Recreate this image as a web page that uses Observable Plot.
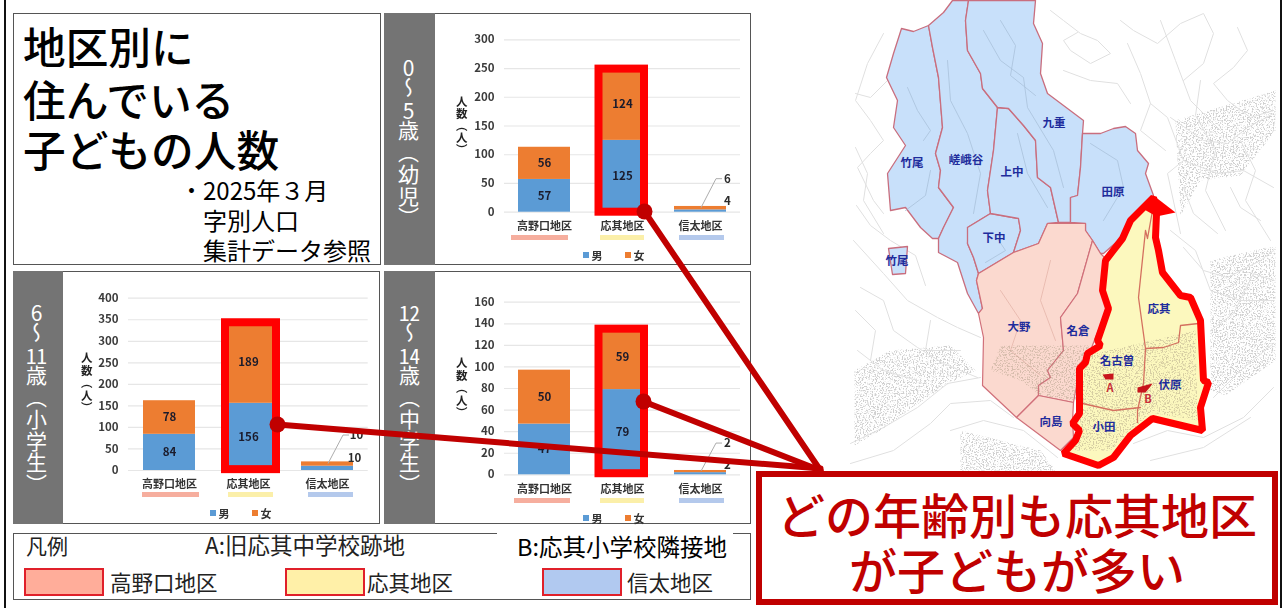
<!DOCTYPE html>
<html lang="ja">
<head>
<meta charset="utf-8">
<script src="https://cdn.jsdelivr.net/npm/d3@7"></script>
<script src="https://cdn.jsdelivr.net/npm/@observablehq/plot@0.6"></script>
<style>
html,body{margin:0;padding:0;background:#fff;}
#page{position:relative;width:1283px;height:608px;overflow:hidden;background:#fff;font-family:"Noto Sans CJK JP","Noto Sans",sans-serif;color:#111;}
#page>*{position:absolute;}
.panel{box-sizing:border-box;border:1.5px solid #555;background:#fff;}
.band{background:#747474;}
.t{position:absolute;white-space:nowrap;line-height:1;}
.g{position:absolute;white-space:nowrap;line-height:1;transform:translate(-50%,-50%);}
.v{position:absolute;white-space:nowrap;line-height:1;writing-mode:vertical-rl;text-orientation:upright;transform:translateX(-50%);}
.v span{text-combine-upright:all;}
svg.plot{position:absolute;overflow:visible;background:transparent;}
.soft{filter:blur(.45px);}
.speckle{filter:url(#sp);}
</style>
</head>
<body>
<div id="page"></div>
<svg width="0" height="0" style="position:absolute"><defs>
<filter id="sp" x="0" y="0" width="100%" height="100%">
<feTurbulence type="fractalNoise" baseFrequency="0.7" numOctaves="2" seed="4" result="n"/>
<feColorMatrix in="n" type="matrix" values="0 0 0 0 0  0 0 0 0 0  0 0 0 0 0  0 0 0 7 -3.5" result="a"/>
<feComposite in="SourceGraphic" in2="a" operator="in" result="c"/>
<feGaussianBlur in="c" stdDeviation="0.6"/>
</filter>
</defs></svg>
<script>
// ---------- chart data ----------
const districts = ["高野口地区", "応其地区", "信太地区"];
const genders = ["男", "女"];
const age0to5 = {男: [57, 125, 4], 女: [56, 124, 6]};
const age6to11 = {男: [84, 156, 10], 女: [78, 189, 10]};
const age12to14 = {男: [47, 79, 2], 女: [50, 59, 2]};
const ticks0to5 = [0, 50, 100, 150, 200, 250, 300];
const ticks6to11 = [0, 50, 100, 150, 200, 250, 300, 350, 400];
const ticks12to14 = [0, 20, 40, 60, 80, 100, 120, 140, 160];
const titleLines = ["地区別に", "住んでいる", "子どもの人数"];
const noteLines = ["2025年３月", "字別人口", "集計データ参照"];
const calloutLines = ["どの年齢別も応其地区", "が子どもが多い"];
const axisTitle = "人数（人）";

// ---------- map outlines (traced, in picture units) ----------
const blueAreas = [
 [[901,28],[913,31],[928,25],[932,47],[938,77],[942,127],[935,153],[940,170],[938,187],[953,207],[943,227],[938,238],[932,238],[920,227],[905,207],[890,210],[887,173],[905,145],[893,127],[897,100],[886,77],[893,53]],
 [[928,25],[943,12],[952,0],[968,0],[965,20],[967,50],[980,73],[982,88],[997,107],[993,150],[987,190],[990,213],[967,227],[968,230],[967,243],[973,257],[978,273],[976,280],[982,308],[978,313],[967,293],[957,262],[938,252],[938,238],[943,227],[953,207],[938,187],[940,170],[935,153],[942,127],[938,77],[932,47]],
 [[967,227],[990,213],[1018,218],[1020,230],[1013,252],[978,273],[973,257],[967,243]],
 [[997,107],[1008,108],[1023,125],[1035,140],[1037,177],[1050,187],[1058,222],[1047,223],[1038,243],[1013,252],[1020,230],[1018,218],[990,213],[987,190],[993,150]],
 [[968,0],[1035,0],[1033,23],[1042,43],[1040,73],[1047,93],[1067,108],[1083,120],[1082,133],[1080,167],[1077,195],[1070,197],[1070,222],[1058,222],[1050,187],[1037,177],[1035,140],[1023,125],[1008,108],[997,107],[982,88],[980,73],[967,50],[965,20]],
 [[1082,133],[1100,133],[1113,128],[1125,126],[1135,133],[1137,150],[1148,163],[1145,173],[1153,195],[1133,217],[1120,238],[1103,253],[1100,253],[1092,240],[1085,230],[1085,223],[1070,222],[1070,197],[1077,195],[1080,167]],
 [[888,248],[907,246],[905,273],[892,274]]
];
const pinkAreas = [
 [[1047,223],[1085,223],[1085,230],[1092,240],[1077,293],[1060,317],[1063,350],[1047,370],[1050,377],[1038,385],[1038,395],[1016,417],[982,385],[983,337],[978,313],[982,308],[976,280],[978,273],[1013,252],[1038,243]],
 [[1092,240],[1100,253],[1107,260],[1100,290],[1107,307],[1095,337],[1090,350],[1080,363],[1073,402],[1038,395],[1038,385],[1050,377],[1047,370],[1063,350],[1060,317],[1077,293]],
 [[1038,395],[1016,417],[1060,450],[1073,437],[1072,420],[1073,402]]
];
const yellowArea = [[1153,197],[1130,220],[1122,238],[1105,260],[1102,290],[1108,308],[1097,340],[1100,345],[1087,353],[1085,362],[1079,368],[1079,413],[1072,423],[1079,430],[1075,440],[1063,453],[1098,465],[1113,457],[1130,435],[1152,418],[1202,430],[1200,407],[1208,382],[1203,380],[1200,320],[1190,297],[1180,295],[1162,272],[1158,250],[1155,237],[1156,213]];
const yellowTip = [[1153,195],[1175,212],[1156,216],[1142,208]];
const innerBorders = [
 [[1152,210],[1147,238],[1145,230],[1138,297],[1145,348],[1143,383],[1137,410],[1137,422]],
 [[1145,348],[1163,347],[1178,342],[1180,325],[1198,323]],
 [[1082,403],[1113,410],[1140,407]]
];
const siteA = [[1102,374],[1113,373],[1113,379],[1105,379]];
const siteB = [[1137,387],[1148,384],[1152,383],[1150,386],[1145,392],[1137,392]];
const greyLines = [
 [[1050,10],[1063,20],[1080,33],[1097,40],[1110,53],[1090,63],[1070,50],[1063,40],[1077,32]],
 [[1120,20],[1133,30],[1157,43],[1180,23],[1203,13],[1213,33],[1203,63],[1183,80]],
 [[1127,43],[1140,73],[1150,103],[1167,117],[1183,160],[1167,173],[1180,233]],
 [[1237,27],[1247,50],[1233,67],[1213,83],[1227,100],[1250,117],[1273,110]],
 [[1063,70],[1090,80],[1117,83],[1130,103]],
 [[1170,117],[1203,140],[1227,143],[1247,127],[1273,113]],
 [[1183,160],[1217,173],[1243,170],[1273,187]],
 [[1183,187],[1193,213],[1217,233]],
 [[1230,187],[1240,207],[1260,220]],
 [[1160,20],[1175,60],[1190,100],[1220,130]],
 [[1200,80],[1195,115],[1215,150],[1205,190],[1225,230]],
 [[1150,103],[1140,130],[1165,150]],
 [[1240,140],[1255,170],[1245,200],[1270,240]],
 [[1170,230],[1195,250],[1210,290],[1240,300],[1273,300]],
 [[883,33],[867,63],[855,100],[870,120],[883,140],[870,153],[857,167],[873,200],[883,213]],
 [[855,93],[870,97],[887,80]],
 [[855,147],[867,173],[863,200],[883,233]],
 [[856,205],[870,225],[890,240],[915,255],[925,285]],
 [[853,240],[883,273],[907,300],[937,317],[957,327],[980,337]],
 [[860,287],[883,300],[893,330],[917,347],[943,363],[977,377]],
 [[857,350],[883,370],[917,380]],
 [[855,310],[875,330],[870,360]],
 [[930,320],[925,350],[960,350]],
 [[850,443],[883,427],[917,407],[947,383],[980,377]],
 [[850,463],[893,450],[930,423],[950,403],[990,400],[1013,417]],
 [[950,430],[983,420],[1023,430],[1057,457]],
 [[1133,443],[1167,430],[1203,437],[1243,417],[1273,387]],
 [[1213,397],[1240,370],[1273,343]],
 [[1210,330],[1233,313],[1253,273],[1273,280]],
 [[1183,247],[1203,270],[1227,277],[1260,260],[1273,250]],
 [[1150,460],[1203,447],[1250,417]]
];
const areaLines = [
 [[947,60],[950,100],[967,133],[980,173],[973,213]],
 [[983,30],[1000,60],[1023,77],[1027,107],[1053,150],[1063,187]],
 [[907,87],[917,110],[930,130],[923,140]],
 [[1017,133],[1027,173],[1047,207]],
 [[1090,143],[1117,160],[1123,187],[1103,220]],
 [[905,210],[925,195],[930,170]],
 [[1000,20],[1015,45],[1010,75],[1035,95]],
 [[995,235],[1005,250],[985,262]],
 [[1000,290],[1020,320],[1010,350],[1040,375]],
 [[1050,260],[1040,300],[1055,340]]
];
const urbanGrey = [
 [[854,370],[890,350],[950,345],[975,370],[945,385],[915,405],[880,430],[854,445]],
 [[1210,260],[1275,245],[1275,360],[1225,395],[1210,390]],
 [[1175,120],[1275,90],[1275,130],[1240,175],[1200,180],[1180,215]],
 [[960,430],[1040,450],[1055,470],[960,470]],
 [[1000,345],[1090,345],[1075,400],[1040,395],[1020,380],[990,370]],
 [[1085,355],[1195,330],[1197,420],[1150,412],[1110,450],[1070,450]]
];
const placeNames = [
 ["竹尾",912,163],["嵯峨谷",966,160],["上中",1012,172],["九重",1054,123],["田原",1113,192],["下中",994,238],["竹尾",897,261],
 ["大野",1019,327],["名倉",1078,331],["応其",1159,309],["名古曽",1117,361],["伏原",1170,385],["小田",1104,427],["向島",1051,422]
];
const connectors = [
 [[644,211],[820,470]],
 [[277,424],[820,468]],
 [[643,401],[820,470]]
];

// ---------- helpers ----------
const page = document.getElementById("page");
function div(cls, css, text) {
  const e = document.createElement("div");
  e.className = cls;
  e.style.cssText = css;
  if (text != null) e.textContent = text;
  page.appendChild(e);
  return e;
}
const ring = (p) => { const r = p.concat([p[0]]); return {type: "Feature", geometry: {type: "Polygon", coordinates: [r]}}; };
const path = (p) => ({type: "Feature", geometry: {type: "LineString", coordinates: p}});
const coll = (a) => ({type: "FeatureCollection", features: a});

// ---------- map ----------
const mapPlot = Plot.plot({
  width: 1283, height: 608, margin: 0, projection: "identity",
  marks: [
    Plot.geo(coll(urbanGrey.slice(0, 4).map(ring)), {fill: "#c4c4c4", fillOpacity: .8, className: "speckle"}),
    Plot.geo(coll(greyLines.map(path)), {stroke: "#e0e0e0", strokeWidth: 1}),
    Plot.geo(coll(blueAreas.map(ring)), {fill: "#C8E0FA", stroke: "#C96E7E", strokeWidth: 1.3}),
    Plot.geo(coll(areaLines.slice(0, 8).map(path)), {stroke: "#A9C2DA", strokeWidth: .8}),
    Plot.geo(coll(pinkAreas.map(ring)), {fill: "#FBD9CF", stroke: "#D0707A", strokeWidth: 1.2}),
    Plot.geo(coll(areaLines.slice(8).map(path)), {stroke: "#E5B5AA", strokeWidth: .8}),
    Plot.geo(coll([ring(yellowArea)]), {fill: "#FCF8BE"}),
    Plot.geo(coll(urbanGrey.slice(4).map(ring)), {fill: "#a89a80", fillOpacity: .45, className: "speckle"}),
    Plot.geo(coll(innerBorders.map(path)), {stroke: "#D4705F", strokeWidth: 1.3}),
    Plot.geo(coll([ring(yellowArea)]), {stroke: "#FF0000", strokeWidth: 7, strokeLinejoin: "miter"}),
    Plot.geo(coll([ring(yellowTip)]), {fill: "#FF0000"}),
    Plot.geo(coll([ring(siteA), ring(siteB)]), {fill: "#C8141C"})
  ]
});
mapPlot.style.cssText = "left:0;top:0;";
mapPlot.classList.add("soft");
page.appendChild(mapPlot);
placeNames.forEach(([n, x, y]) => div("g", `left:${x}px;top:${y}px;font-size:11.5px;font-weight:700;color:#1E2C9C;`, n));
div("g", "left:1110px;top:387px;font-size:11px;font-weight:700;color:#C8303A;", "A");
div("g", "left:1148px;top:398px;font-size:11px;font-weight:700;color:#C8303A;", "B");

// ---------- outer frame ----------
div("", "left:4px;top:0;width:2px;height:608px;background:#111;");
div("", "left:1280px;top:0;width:2px;height:608px;background:#111;");

// ---------- title panel ----------
div("panel", "left:13px;top:13px;width:368px;height:252px;");
titleLines.forEach((s, i) => div("t", `left:23px;top:${[24, 77, 127][i]}px;font-size:42.7px;font-weight:500;color:#000;`, s));
div("t", "left:180px;top:178px;font-size:23px;color:#000;", "・");
noteLines.forEach((s, i) => div("t", `left:203px;top:${[178, 208, 238][i]}px;font-size:24px;color:#000;`, s));

// ---------- chart panels ----------
const swatchLook = {男: "#5B9BD5", 女: "#ED7D31"};
const bandLook = ["#F6AE9E", "#FBEFA9", "#B4C9EC"];

function chart(o) {
  const rows = [];
  districts.forEach((d, i) => {
    let base = 0;
    genders.forEach((g) => {
      const v = o.values[g][i];
      rows.push({d, g, v, mid: base + v / 2});
      base += v;
    });
  });
  const small = rows.filter((r) => r.d === "信太地区");
  const big = rows.filter((r) => r.d !== "信太地区");
  const upper = small[1];

  div("panel", `left:${o.left}px;top:${o.top}px;width:${o.w}px;height:${o.h}px;`);
  div("band", `left:${o.left}px;top:${o.top}px;width:${o.bandW}px;height:${o.h}px;`);

  const p = Plot.plot({
    width: o.w, height: o.h,
    marginLeft: o.ml, marginRight: o.mr, marginTop: o.mt, marginBottom: o.mb,
    style: {fontFamily: '"Noto Sans CJK JP"', background: "transparent"},
    x: {domain: districts, paddingInner: .338, paddingOuter: .169, label: null},
    y: {domain: [0, o.ticks[o.ticks.length - 1]], label: null},
    color: {domain: genders, range: [swatchLook.男, swatchLook.女]},
    marks: [
      Plot.ruleY(o.ticks, {stroke: "#E6E6E6", strokeWidth: 1.2}),
      Plot.axisY({ticks: o.ticks, tickSize: 0, tickPadding: 10, fontSize: 11.5, fontWeight: 700, fill: "#3c3c3c", label: null}),
      Plot.axisX({tickSize: 0, tickPadding: 10, fontSize: 11, fontWeight: 700, fill: "#333", label: null}),
      Plot.barY(rows, {x: "d", y: "v", fill: "g", order: genders}),
      Plot.text(big, {x: "d", y: "mid", text: "v", fontSize: 11.5, fontWeight: 700, fill: "#1b1b2b"}),
      (index, {x, y}) => {
        const cx = x("信太地区") + x.bandwidth() / 2;
        const y0 = y(upper.mid);
        const yl = y0 + o.upDy;
        return d3.create("svg:path")
          .attr("d", `M${cx + 1},${y0}L${cx + 16},${yl}L${cx + 22},${yl}`)
          .attr("fill", "none").attr("stroke", "#ACACAC").attr("stroke-width", 1).node();
      },
      Plot.barY([{d: "応其地区", y1: o.boxLow, y2: o.boxTop}], {
        x: "d", y1: "y1", y2: "y2", fill: "none", stroke: "#FF0000", strokeWidth: 8,
        insetLeft: o.boxL, insetRight: o.boxR
      }),
      Plot.text([small[0]], {x: "d", y: "mid", text: "v", dx: o.lowDx, dy: o.lowDy, fontSize: 11.5, fontWeight: 700, fill: "#2a2a2a"}),
      Plot.text([small[1]], {x: "d", y: "mid", text: "v", dx: o.upDx, dy: o.upDy, fontSize: 11.5, fontWeight: 700, fill: "#2a2a2a"})
    ]
  });
  p.style.left = o.left + "px";
  p.style.top = o.top + "px";
  p.classList.add("soft");
  page.appendChild(p);

  // coloured strips under the district names
  o.strips.forEach(([x, w], i) => div("soft", `left:${x}px;top:${o.stripY}px;width:${w}px;height:5px;background:${bandLook[i]};`));

  // small legend
  genders.forEach((g, i) => {
    div("soft", `left:${o.legX[i]}px;top:${o.legY - 3}px;width:6px;height:6px;background:${swatchLook[g]};`);
    div("g soft", `left:${o.legX[i] + 14}px;top:${o.legY}px;font-size:11px;font-weight:700;color:#333;`, g);
  });

  // vertical label in the grey band
  const band = div("v", `left:${o.bandX}px;top:${o.bandTop}px;font-size:21px;letter-spacing:.8px;color:#fff;`);
  band.innerHTML = o.bandText;
  // axis title
  div("v soft", `left:${o.axisX}px;top:${o.axisTop}px;font-size:11.5px;font-weight:700;letter-spacing:${o.axisGap}px;color:#222;`, axisTitle);
}

chart({
  values: age0to5, ticks: ticks0to5, left: 384, top: 13, w: 367, h: 252, bandW: 51,
  ml: 120, mr: 11, mt: 26.3, mb: 53.3,
  boxLow: 0, boxTop: 249, boxL: 2.5, boxR: 4,
  lowDx: 27, lowDy: -9.5, upDx: 27, upDy: -29,
  strips: [[511, 57], [600, 44], [679, 45]], stripY: 235, legX: [583, 625], legY: 255,
  bandX: 408, bandTop: 56,
  bandText: "<span>0</span>～<span>5</span>歳（幼児）",
  axisX: 461, axisTop: 96, axisGap: .5
});
chart({
  values: age6to11, ticks: ticks6to11, left: 13, top: 271, w: 367, h: 253, bandW: 50,
  ml: 115, mr: 12.3, mt: 26.7, mb: 54,
  boxLow: 2, boxTop: 343, boxL: 3, boxR: -2,
  lowDx: 27, lowDy: -10, upDx: 29, upDy: -28.5,
  strips: [[142, 57], [228, 45], [308, 45]], stripY: 492, legX: [210, 252], legY: 513,
  bandX: 36, bandTop: 301,
  bandText: "<span>6</span>～<span>11</span>歳（小学生）",
  axisX: 86, axisTop: 352, axisGap: 1
});
chart({
  values: age12to14, ticks: ticks12to14, left: 384, top: 271, w: 367, h: 253, bandW: 51,
  ml: 120, mr: 11, mt: 30.7, mb: 49.7,
  boxLow: 1, boxTop: 135, boxL: 2.5, boxR: 4,
  lowDx: 27, lowDy: -8, upDx: 27, upDy: -28,
  strips: [[514, 56], [600, 44], [679, 45]], stripY: 498, legX: [583, 625], legY: 518,
  bandX: 409, bandTop: 301,
  bandText: "<span>12</span>～<span>14</span>歳（中学生）",
  axisX: 461, axisTop: 357, axisGap: 1
});

// ---------- legend ----------
div("panel", "left:13px;top:533px;width:738px;height:67px;");
div("", "left:497px;top:532px;width:236px;height:3px;background:#fff;");
div("t", "left:26px;top:535px;font-size:21px;color:#222;", "凡例");
div("t", "left:205px;top:533px;font-size:22.5px;color:#222;", "A:旧応其中学校跡地");
div("t", "left:517px;top:535px;font-size:23.5px;color:#000;", "B:応其小学校隣接地");
[["高野口地区", 24, 110, "#FFAD9A"], ["応其地区", 285, 367, "#FFF0A8"], ["信太地区", 542, 627, "#B1C9F0"]].forEach(([s, x, tx, c]) => {
  div("", `left:${x}px;top:568px;width:80px;height:28px;box-sizing:border-box;border:2.5px solid #E0202A;background:${c};`);
  div("t", `left:${tx}px;top:571px;font-size:21.5px;color:#222;`, s);
});

// ---------- callout box ----------
div("", "left:756px;top:471px;width:522px;height:134px;box-sizing:border-box;border:6px solid #C00000;background:#fff;");
calloutLines.forEach((s, i) => div("g", `left:1017px;top:${[513, 568][i]}px;font-size:48px;font-weight:500;color:#C00000;`, s));

// ---------- connector lines on top ----------
const overlay = Plot.plot({
  width: 1283, height: 608, margin: 0, projection: "identity",
  marks: [
    Plot.geo(coll(connectors.map(path)), {stroke: "#C00000", strokeWidth: 6}),
    Plot.dot(connectors, {x: (d) => d[0][0], y: (d) => d[0][1], r: 8, fill: "#C00000"})
  ]
});
overlay.style.cssText = "left:0;top:0;pointer-events:none;";
page.appendChild(overlay);
</script>
</body>
</html>
